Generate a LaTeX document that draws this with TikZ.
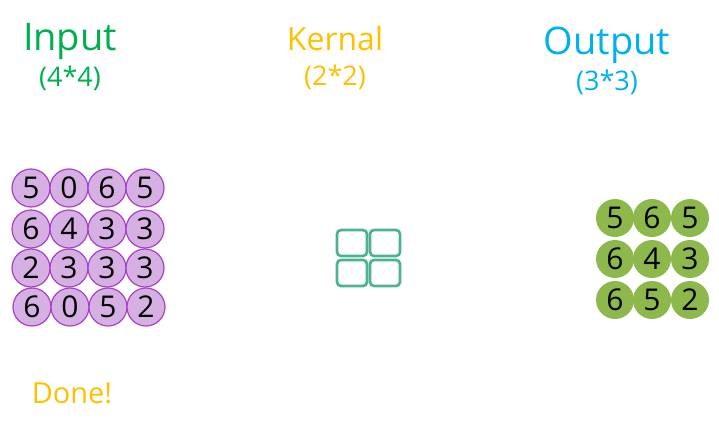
\documentclass[tikz,border=0pt]{standalone}
\usepackage{fontspec}
\setmainfont{Open Sans}
\definecolor{ingreen}{RGB}{0,176,80}
\definecolor{kyellow}{RGB}{255,192,0}
\definecolor{oblue}{RGB}{0,176,240}
\definecolor{pfill}{RGB}{214,176,226}
\definecolor{pdraw}{RGB}{168,64,200}
\definecolor{gfill}{RGB}{141,185,76}
\definecolor{kteal}{RGB}{76,178,146}
\begin{document}
\begin{tikzpicture}[x=1pt,y=-1pt,
  incell/.style={circle,draw=pdraw,fill=pfill,line width=1.2pt,minimum size=38pt,inner sep=0pt,font=\fontsize{30}{31}\selectfont},
  outcell/.style={circle,fill=gfill,minimum size=38pt,inner sep=0pt,font=\fontsize{30}{31}\selectfont},
  kcell/.style={draw=kteal,line width=2.7pt,rounded corners=4pt,minimum width=30pt,minimum height=26pt,inner sep=0pt},
  title/.style={anchor=base,inner sep=0pt}]
\useasboundingbox (0,0) rectangle (719,428);
% titles
\node[title,text=ingreen,font=\fontsize{38}{40}\selectfont] (tin) at (70,50) {Input};
\node[title,text=ingreen,font=\fontsize{27}{29}\selectfont] (tins) at (70,86) {(4*4)};
\node[title,text=kyellow,font=\fontsize{32}{34}\selectfont] (tk) at (335,50) {Kernal};
\node[title,text=kyellow,font=\fontsize{27}{29}\selectfont] (tks) at (335,85) {(2*2)};
\node[title,text=oblue,font=\fontsize{38}{40}\selectfont] (tout) at (607,55) {Output};
\node[title,text=oblue,font=\fontsize{27}{29}\selectfont] (touts) at (607,90) {(3*3)};
% input grid
\node[incell] (i11) at (31,188) {5};
\node[incell] (i12) at (69,188) {0};
\node[incell] (i13) at (107,188) {6};
\node[incell] (i14) at (145,188) {5};
\node[incell] (i21) at (31,229) {6};
\node[incell] (i22) at (69,229) {4};
\node[incell] (i23) at (107,229) {3};
\node[incell] (i24) at (145,229) {3};
\node[incell] (i31) at (31,268) {2};
\node[incell] (i32) at (69,268) {3};
\node[incell] (i33) at (107,268) {3};
\node[incell] (i34) at (145,268) {3};
\node[incell] (i41) at (32,307) {6};
\node[incell] (i42) at (70,307) {0};
\node[incell] (i43) at (108,307) {5};
\node[incell] (i44) at (146,307) {2};
% kernel
\node[kcell] (k11) at (352,243) {};
\node[kcell] (k12) at (385,243) {};
\node[kcell] (k21) at (352,273) {};
\node[kcell] (k22) at (385,273) {};
% output grid
\node[outcell] (o11) at (615,218) {5};
\node[outcell] (o12) at (652,218) {6};
\node[outcell] (o13) at (690,218) {5};
\node[outcell] (o21) at (615,259) {6};
\node[outcell] (o22) at (652,259) {4};
\node[outcell] (o23) at (690,259) {3};
\node[outcell] (o31) at (615,300) {6};
\node[outcell] (o32) at (652,300) {5};
\node[outcell] (o33) at (690,300) {2};
% done
\node[title,text=kyellow,font=\fontsize{29}{31}\selectfont] (done) at (72,403) {Done!};
\end{tikzpicture}
\end{document}
